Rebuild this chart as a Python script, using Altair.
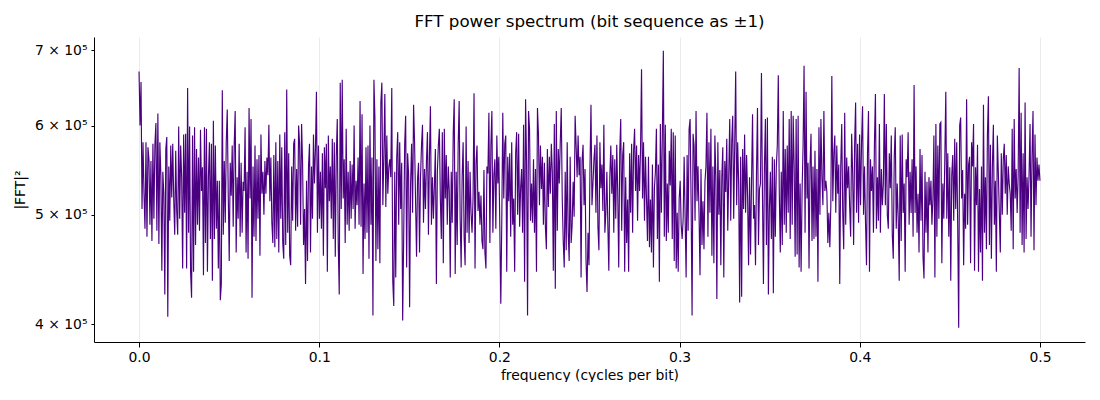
import altair as alt
import pandas as pd

# |FFT|^2 values, in thousands, left to right
seg1 = [670, 600, 656, 506, 580, 522, 486, 580, 478, 574, 560, 490, 558, 474, 578, 496, 577, 603, 484, 615,
        471, 580, 543, 446, 546, 522, 425, 572, 586, 406, 552, 494, 576, 518, 578, 516, 480, 570, 504, 480,
        599, 496, 576, 540, 448, 589, 502, 590, 448, 648, 482, 599, 445, 422, 588, 445, 598, 470, 572, 490,
        562, 484, 595, 525, 551, 442, 598, 472, 596, 445, 540, 580, 476, 578, 437, 606, 476, 576, 486, 536,
        448, 536, 420, 434, 645, 480, 558, 492, 580, 620, 522, 455]
seg2 = [556, 520, 576, 488, 576, 618, 463, 540, 496, 578, 478, 556, 482, 535, 525, 598, 463, 546, 457, 622,
        517, 608, 422, 552, 478, 576, 474, 560, 496, 565, 460, 589, 522, 546, 500, 558, 522, 562, 542, 601,
        514, 562, 492, 472, 565, 468, 580, 476, 558, 463, 589, 496, 574, 472, 457, 592, 470, 646, 482, 567,
        460, 451, 552, 494, 578, 584, 484, 549, 488, 600, 578, 490, 602, 556, 470, 506, 434, 536, 455, 552,
        578, 463, 552, 496, 589, 533, 572, 643, 482, 576]
seg3 = [496, 546, 486, 567, 460, 574, 528, 578, 445, 588, 514, 552, 496, 584, 476, 580, 459, 563, 608, 470,
        425, 655, 506, 659, 517, 560, 472, 596, 490, 546, 484, 558, 496, 554, 506, 600, 486, 536, 510, 562,
        490, 631, 488, 614, 443, 533, 476, 574, 482, 576, 457, 600, 490, 562, 407, 659, 610, 455, 560, 466,
        552, 453, 629, 655, 510, 565, 640, 508, 588, 522, 551, 560, 540, 648, 437, 415, 546, 440, 562, 592,
        490, 580, 506, 556, 403, 476, 576, 612, 449]
seg4 = [567, 542, 414, 533, 578, 502, 626, 580, 514, 459, 538, 556, 463, 540, 576, 601, 492, 549, 506, 558,
        592, 480, 563, 624, 490, 540, 496, 531, 572, 434, 546, 576, 596, 517, 476, 592, 453, 596, 517, 565,
        490, 552, 525, 440, 546, 492, 590, 633, 443, 546, 470, 577, 631, 496, 449, 540, 580, 478, 451, 599,
        482, 558, 472, 546, 502, 482, 517, 641, 448, 556, 576, 504, 524, 490, 520, 474, 466, 548, 463, 448,
        552, 544, 616, 472, 576, 618, 482, 542, 560, 486]
seg5 = [588, 533, 563, 490, 417, 494, 616, 517, 578, 588, 445, 563, 514, 567, 478, 580, 490, 517, 445, 567,
        592, 500, 590, 488, 528, 549, 482, 601, 436, 633, 556, 407, 618, 596, 494, 533, 492, 560, 482, 549,
        445, 622, 590, 510, 576, 527, 563, 490, 556, 488, 466, 572, 508, 563, 522, 578, 546, 446, 602, 430,
        618, 484, 572, 533, 580, 622, 517, 474, 449, 546, 465, 580, 482, 455, 563, 472, 490, 535, 498, 612,
        576, 540, 588, 542, 563, 440, 558, 577, 510, 549, 455]
seg6 = [427, 482, 451, 552, 626, 510, 533, 560, 577, 502, 588, 488, 465, 580, 528, 554, 504, 601, 482, 502,
        546, 490, 446, 540, 576, 522, 565, 482, 560, 496, 577, 522, 449, 567, 608, 484, 565, 580, 445, 540,
        472, 516, 445, 567, 502, 578, 482, 570, 596, 525, 576, 494, 565, 525, 572, 673, 517, 580, 494, 563,
        517, 474, 563, 468, 516, 463, 554, 449, 528, 546, 596, 476, 554, 436, 602, 502, 588, 699, 478, 601,
        474, 533, 482, 570, 531, 596, 476, 592, 455]
seg7 = [588, 448, 502, 445, 517, 536, 490, 476, 496, 563, 496, 440, 565, 484, 596, 608, 514, 407, 590, 576,
        494, 618, 514, 552, 502, 442, 549, 470, 514, 466, 535, 552, 616, 478, 580, 502, 596, 460, 552, 453,
        588, 540, 421, 580, 500, 548, 451, 540, 574, 440, 558, 524, 584, 484, 542, 608, 494, 580, 612, 496,
        576, 670, 510, 580, 533, 418, 563, 423, 572, 506, 589, 502, 565, 520, 451, 540, 461, 535, 614, 496,
        510, 451, 546, 622, 470, 527, 533, 668, 522, 434, 552, 608]
seg8 = [470, 610, 425, 506, 546, 476, 563, 426, 560, 478, 552, 576, 665, 522, 463, 546, 470, 618, 490, 572,
        482, 576, 502, 608, 476, 618, 490, 612, 552, 459, 608, 461, 612, 449, 533, 445, 525, 576, 678, 482,
        643, 517, 556, 448, 552, 590, 474, 552, 476, 570, 478, 549, 436, 598, 500, 608, 540, 510, 618, 525,
        536, 524, 472, 502, 468, 510, 664, 514, 567, 588, 502, 576, 522, 554, 434, 552, 602, 502, 466, 616,
        490, 562, 528, 552, 508, 478, 590, 546, 470, 576, 629]
seg9 = [502, 578, 492, 589, 510, 580, 624, 500, 552, 492, 451, 567, 618, 445, 560, 525, 552, 482, 578, 640,
        486, 540, 494, 602, 482, 549, 510, 533, 640, 510, 602, 500, 486, 567, 528, 588, 480, 457, 563, 598,
        486, 533, 496, 437, 588, 474, 589, 502, 533, 445, 560, 540, 592, 490, 546, 502, 560, 478, 652, 502,
        552, 482, 522, 463, 572, 494, 565, 459, 439, 546, 482, 535, 463, 540, 510, 536, 490, 517, 588, 440,
        602, 478, 576, 496, 602, 604, 453, 533, 496, 560, 643]
seg10 = [496, 567, 478, 551, 437, 542, 565, 494, 584, 506, 580, 490, 397, 600, 610, 517, 548, 451, 522, 486,
         633, 490, 554, 563, 453, 580, 552, 602, 446, 551, 510, 577, 445, 527, 463, 552, 437, 626, 482, 540,
         466, 589, 637, 470, 577, 457, 552, 601, 490, 536, 445, 588, 546, 502, 463, 567, 500, 560, 578, 522,
         565, 500, 552, 533, 522, 484, 596, 466, 608, 517, 549, 502, 542, 675, 482, 616, 470, 567, 463, 629,
         476, 540, 506, 542, 602, 478, 563, 618, 465, 589, 510, 562, 536, 554, 536]

x_ticks = [0.0, 0.1, 0.2, 0.3, 0.4, 0.5]
y_ticks = [400000, 500000, 600000, 700000]

power_k = seg1 + seg2 + seg3 + seg4 + seg5 + seg6 + seg7 + seg8 + seg9 + seg10
n = len(power_k)
freq = [0.5 * i / (n - 1) for i in range(n)]
df = pd.DataFrame({"freq": freq, "power": [v * 1000 for v in power_k]})

FONT = "DejaVu Sans"

chart = alt.Chart(df).mark_line(color="#4B0082", strokeWidth=1.15, clip=True).encode(
    x=alt.X("freq:Q",
            scale=alt.Scale(domain=[-0.025, 0.525], nice=False, zero=False),
            axis=alt.Axis(values=x_ticks, format=".1f", title="frequency (cycles per bit)",
                          grid=True, gridColor="#e6e6e6", gridWidth=0.8,
                          tickSize=5, tickColor="black", domainColor="black",
                          labelPadding=3, titlePadding=5)),
    y=alt.Y("power:Q",
            scale=alt.Scale(type="log", domain=[385600, 719000], nice=False, zero=False),
            axis=alt.Axis(values=y_ticks, title="|FFT|²", grid=False,
                          labelExpr="floor(datum.value / 100000 + 0.5) + ' × 10⁵'",
                          tickSize=3, tickColor="black", domainColor="black",
                          labelPadding=4, titlePadding=7)),
).properties(
    width=991,
    height=305,
    title=alt.TitleParams("FFT power spectrum (bit sequence as ±1)", fontSize=16.7,
                          font=FONT, fontWeight="normal", anchor="middle", offset=6,
                          frame="group", color="black"),
    padding={"left": 86, "top": 29, "right": 7, "bottom": 40},
    autosize=alt.AutoSizeParams(type="none"),
).configure_view(stroke=None).configure_axis(
    labelFont=FONT, titleFont=FONT, labelFontSize=13.9, titleFontSize=13.9,
    labelColor="black", titleColor="black", titleFontWeight="normal",
    domainWidth=1, tickWidth=1,
)

chart.save("out.html", embed_options={"renderer": "svg", "actions": False})
